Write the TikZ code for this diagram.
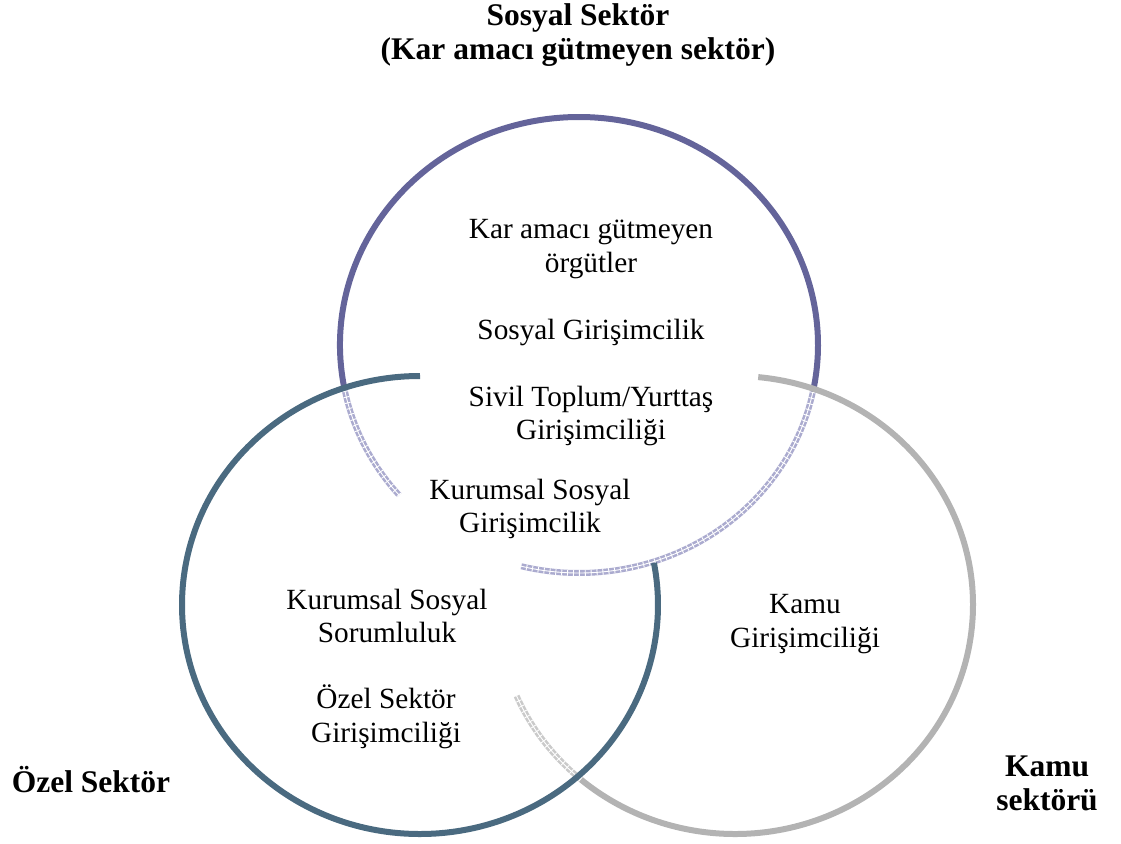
\documentclass[tikz,border=0pt]{standalone}
\usepackage{fontspec}
\setmainfont{Liberation Serif}
\definecolor{socialring}{HTML}{64649A}
\definecolor{socialpale}{HTML}{ABABCF}
\definecolor{privatering}{HTML}{4A6A80}
\definecolor{publicring}{HTML}{B3B3B3}
\definecolor{publicpale}{HTML}{CACACA}
\begin{document}
\begin{tikzpicture}[x=1pt,y=-1pt,
  ring/.style={line width=6pt, line cap=butt},
  pale/.style={line width=6pt, line cap=butt,
    postaction={draw=white, line width=6pt, dash pattern=on 0.9pt off 5pt},
    postaction={draw=white, line width=0.9pt}},
  body/.style={font=\fontsize{29.3}{33.5}\selectfont, align=center, inner sep=0pt},
  title/.style={font=\fontsize{31.5}{34}\selectfont\bfseries, align=center, inner sep=0pt},
]
\useasboundingbox (0,0) rectangle (1121,843);

% circle centres (y grows downwards)
\coordinate (T) at (579,345);
\coordinate (L) at (420,605);
\coordinate (R) at (735,605);

% social sector ring
\draw[ring, socialring] (T) ++(169:239 and 228) arc[start angle=169, end angle=371.9, x radius=239, y radius=228];
\draw[pale, socialpale] (T) ++(138.8:239 and 228) arc[start angle=138.8, end angle=169, x radius=239, y radius=228];
\draw[pale, socialpale] (T) ++(11.9:239 and 228) arc[start angle=11.9, end angle=104, x radius=239, y radius=228];

% public sector ring
\draw[ring, publicring] (R) ++(-84.4:238 and 229) arc[start angle=-84.4, end angle=130.4, x radius=238, y radius=229];
\draw[pale, publicpale] (R) ++(130.4:238 and 229) arc[start angle=130.4, end angle=156.6, x radius=238, y radius=229];

% private sector ring
\draw[ring, privatering] (L) ++(270:238 and 229) arc[start angle=270, end angle=-10.6, x radius=238, y radius=229];

% sector titles
\node[title] (socialtitle) at (578,35) {Sosyal Sektör\\(Kar amacı gütmeyen sektör)};
\node[title] (privatetitle) at (91,780) {Özel Sektör};
\node[title] (publictitle) at (1047,783) {Kamu\\sektörü};

% contents
\node[body] (ngo) at (591,249) {Kar amacı gütmeyen\\örgütler};
\node[body] (socent) at (591,332) {Sosyal Girişimcilik};
\node[body] (civil) at (591,416) {Sivil Toplum/Yurttaş\\Girişimciliği};
\node[body] (corpsoc) at (530,509) {Kurumsal Sosyal\\Girişimcilik};
\node[body] (csr) at (387,616) {Kurumsal Sosyal\\Sorumluluk};
\node[body] (privent) at (386,717) {Özel Sektör\\Girişimciliği};
\node[body] (pubent) at (805,624) {Kamu\\Girişimciliği};
\end{tikzpicture}
\end{document}
